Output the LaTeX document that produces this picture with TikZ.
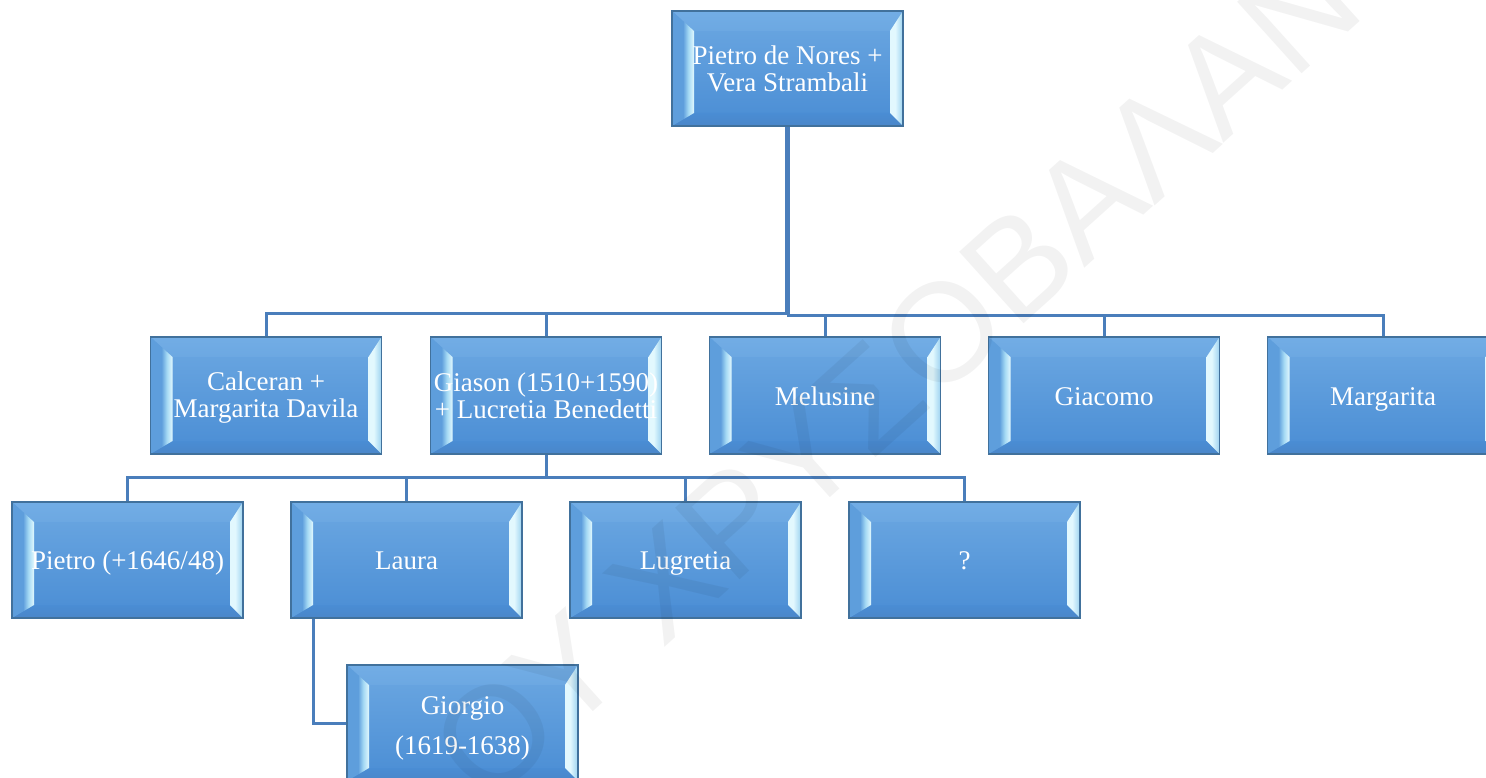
\documentclass[tikz,border=0pt]{standalone}
\usepackage{fontspec}
\setmainfont{Liberation Serif}
\newfontfamily\stampfont{Liberation Sans}
\usetikzlibrary{backgrounds}

% palette
\definecolor{faceTop}{HTML}{6CA8E2}
\definecolor{faceBot}{HTML}{4A8DD4}
\definecolor{faceM}{HTML}{5E9EDC}
\definecolor{bevHi}{HTML}{E2F8FE}
\definecolor{bevLo}{HTML}{A4D9F4}
\definecolor{bevOut}{HTML}{9CD2F0}
\definecolor{bevTop}{HTML}{72ADE5}
\definecolor{bevBot}{HTML}{4A86C9}
\definecolor{boxline}{HTML}{41719C}
\definecolor{linkblue}{HTML}{4A7EBB}

% side bevels: lit inner edge on the left, lit strip on the right
\pgfdeclarehorizontalshading{lbevel}{100bp}{color(0bp)=(faceM); color(25bp)=(faceM); color(50bp)=(faceM); color(62bp)=(bevLo); color(75bp)=(bevHi); color(100bp)=(bevHi)}
\pgfdeclarehorizontalshading{rbevel}{100bp}{color(0bp)=(bevHi); color(25bp)=(bevHi); color(45bp)=(bevHi); color(75bp)=(bevOut); color(100bp)=(bevOut)}

\tikzset{
  bevelbox/.style={
    rectangle, inner sep=0pt,
    minimum width=231pt, minimum height=116pt,
    draw=boxline, line width=1.3pt,
    top color=faceTop, bottom color=faceBot,
    text=white, align=center,
    font=\fontsize{27}{27}\selectfont,
    path picture={
      \path (path picture bounding box.north west) coordinate (bNW)
            (path picture bounding box.north east) coordinate (bNE)
            (path picture bounding box.south west) coordinate (bSW)
            (path picture bounding box.south east) coordinate (bSE);
      \path ([xshift=22pt,yshift=-20pt]bNW) coordinate (iNW)
            ([xshift=-13pt,yshift=-20pt]bNE) coordinate (iNE)
            ([xshift=22pt,yshift=13pt]bSW) coordinate (iSW)
            ([xshift=-13pt,yshift=13pt]bSE) coordinate (iSE);
      \shade[top color=bevTop, bottom color=faceTop]
        (bNW) -- (bNE) -- (iNE) -- (iNW) -- cycle;
      \shade[top color=faceBot, bottom color=bevBot]
        (bSW) -- (bSE) -- (iSE) -- (iSW) -- cycle;
      \shade[shading=lbevel] (bNW) -- (iNW) -- (iSW) -- (bSW) -- cycle;
      \shade[shading=rbevel] (bNE) -- (iNE) -- (iSE) -- (bSE) -- cycle;
    }},
  % one-line labels: descenders do not move the text off centre
  oneline/.style={text height=19pt, text depth=0pt},
  link/.style={draw=linkblue, line width=3pt},
}

\begin{document}
\begin{tikzpicture}[x=1pt, y=-1pt]
\useasboundingbox (0,0) rectangle (1486,778);
\clip (0,0) rectangle (1486,778);

% generation 1
\node[bevelbox, minimum height=115pt] (root) at (787.5,68.5) {Pietro de Nores +\\Vera Strambali};

% generation 2
\node[bevelbox, minimum height=117pt] (calceran)  at (266,395.5)  {\rule{0pt}{22.5pt}Calceran +\\Margarita Davila};
\node[bevelbox, minimum height=117pt] (giason)    at (546,395.5)  {Giason (1510+1590)\\+ Lucretia Benedetti};
\node[bevelbox, oneline, minimum height=117pt] (melusine)  at (825,395.5)  {Melusine};
\node[bevelbox, oneline, minimum height=117pt] (giacomo)   at (1104,395.5) {Giacomo};
\node[bevelbox, oneline, minimum height=117pt] (margarita) at (1383,395.5) {Margarita};

% generation 3
\node[bevelbox, oneline] (pietro)   at (127.5,560) {Pietro (+1646/48)};
\node[bevelbox, oneline] (laura)    at (406.5,560) {Laura};
\node[bevelbox, oneline] (lugretia) at (685.5,560) {Lugretia};
\node[bevelbox, oneline] (unknown)  at (964.5,560) {?};

% generation 4
\node[bevelbox] (giorgio) at (462.5,723) {\rule{0pt}{29pt}Giorgio\\[13pt](1619-1638)};

\begin{pgfonlayer}{background}
  \fill[white] (0,0) rectangle (1486,778);
  % root to its children
  \draw[link] ([xshift=-1pt]root.south) -- ++(0,187) -| (calceran.north);
  \draw[link] ([xshift=-1pt]root.south) -- ++(0,187) -| (giason.north);
  \draw[link] ([xshift=1pt]root.south) -- ++(0,189) -| (melusine.north);
  \draw[link] ([xshift=1pt]root.south) -- ++(0,189) -| (giacomo.north);
  \draw[link] ([xshift=1pt]root.south) -- ++(0,189) -| (margarita.north);
  % Giason's children
  \draw[link] (giason.south) -- ++(0,23) -| (pietro.north);
  \draw[link] (giason.south) -- ++(0,23) -| (laura.north);
  \draw[link] (giason.south) -- ++(0,23) -| (lugretia.north);
  \draw[link] (giason.south) -- ++(0,23) -| (unknown.north);
  % Laura's son, hanging layout
  \draw[link] ([xshift=-93.5pt]laura.south) |- (giorgio.west);
\end{pgfonlayer}

% faint diagonal stamp over the chart
\node[font=\stampfont\fontsize{140}{140}\selectfont, text=black, text opacity=0.05,
      inner sep=0pt, rotate=42] (stamp) at (895,375) {ΟΥ ΧΡΥΣΟΒΑΛΑΝ};
\end{tikzpicture}
\end{document}
